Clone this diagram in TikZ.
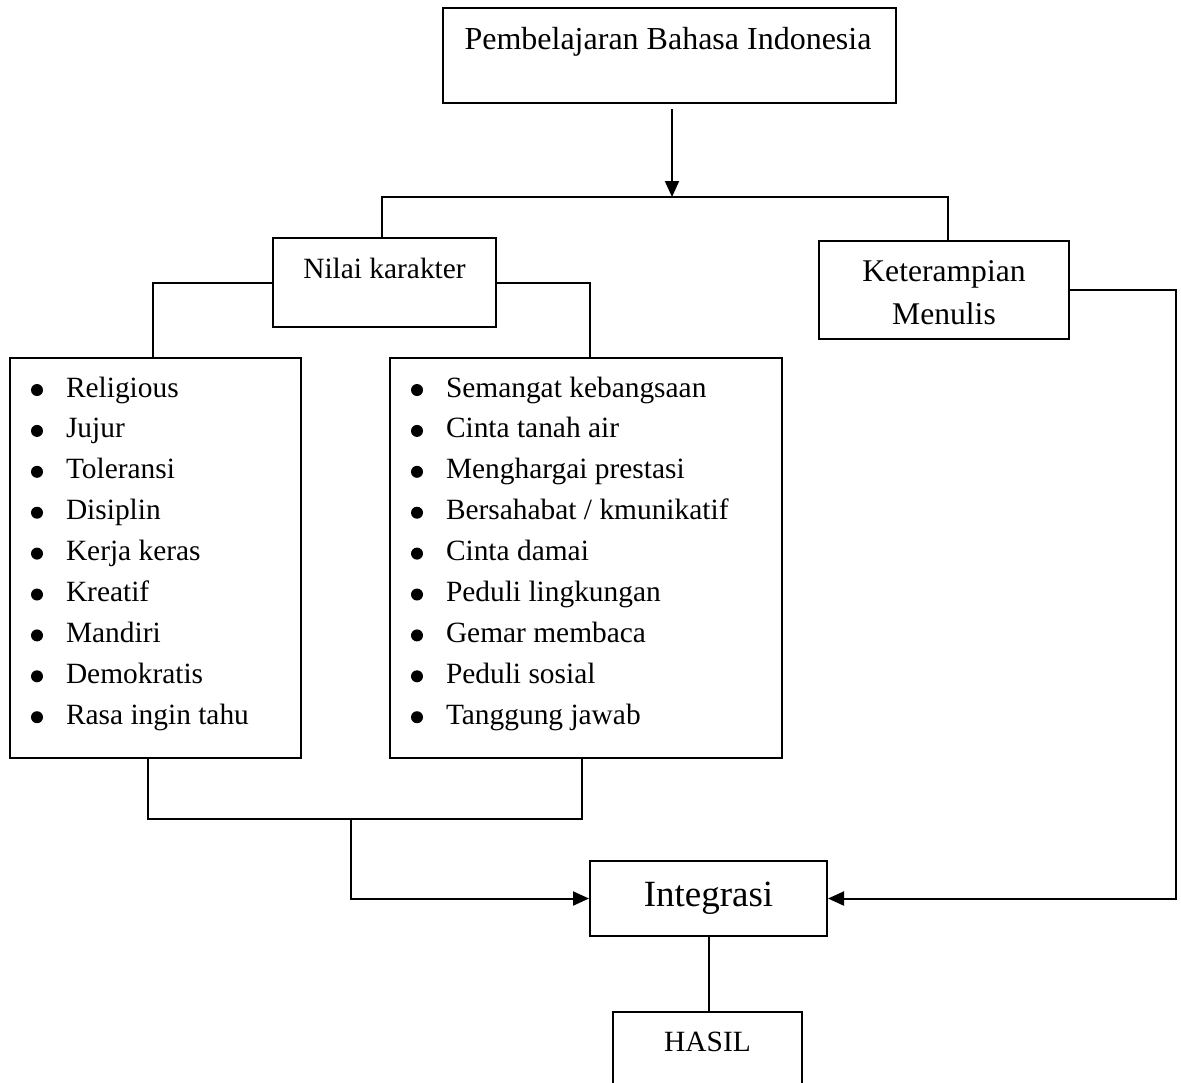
\documentclass[tikz,border=0pt]{standalone}
\usepackage{fontspec}
\setmainfont{Liberation Serif}
\usetikzlibrary{arrows.meta}
\tikzset{
  box/.style={draw, line width=1pt, inner sep=0pt},
  label text/.style={inner sep=0pt, font=\fontsize{14.7}{17}\selectfont},
  item/.style={anchor=base west, inner sep=0pt, font=\fontsize{14.7}{17}\selectfont},
  arr/.style={-{Triangle[length=8pt,width=7pt]}}
}

\begin{document}
\begin{tikzpicture}[x=0.5pt,y=-0.5pt,line width=1pt]
\useasboundingbox (0,0) rectangle (1181,1082);
\clip (0,0) rectangle (1181,1082);
% boxes
\node[box, minimum width=226.5pt, minimum height=47.5pt] (judul) at (669.5,55.5) {};
\node[label text, anchor=base, font=\fontsize{16}{19}\selectfont] (judultext) at (668,49) {Pembelajaran Bahasa Indonesia};
\node[box, minimum width=111.5pt, minimum height=44.5pt] (nilai) at (384.5,282.5) {};
\node[label text] (nilaitext) at (384.5,268) {Nilai karakter};
\node[box, minimum width=125pt, minimum height=49pt] (menulis) at (944,290) {};
\node[label text, align=center, font=\fontsize{15.8}{21.5}\selectfont] (menulistext) at (944,293) {Keterampian\\Menulis};
\node[box, minimum width=145.5pt, minimum height=200pt] (kiri) at (155.5,558) {};
\node[box, minimum width=196pt, minimum height=200pt] (kanan) at (586,558) {};
\node[box, minimum width=118.5pt, minimum height=37.5pt,
  font=\fontsize{18.5}{22}\selectfont] (integrasi) at (708.5,898.5) {Integrasi};
\node[box, minimum width=94.5pt, minimum height=64pt] (hasil) at (707.5,1076) {};
\node[label text] (hasiltext) at (707.5,1042) {HASIL};
% lists
\foreach \txt [count=\i from 0] in {Religious, Jujur, Toleransi, Disiplin, Kerja keras,
    Kreatif, Mandiri, Demokratis, Rasa ingin tahu} {
  \fill (37,390+40.9*\i) circle[radius=3pt];
  \node[item] (kiri\i) at (65,397+40.9*\i) {\txt};
}
\foreach \txt [count=\i from 0] in {Semangat kebangsaan, Cinta tanah air, Menghargai prestasi,
    Bersahabat / kmunikatif, Cinta damai, Peduli lingkungan, Gemar membaca,
    Peduli sosial, Tanggung jawab} {
  \fill (417,390+40.9*\i) circle[radius=3pt];
  \node[item] (kanan\i) at (445,397+40.9*\i) {\txt};
}
% connectors
\coordinate (cabang) at (672,197);
\coordinate (cabangL) at (382,197);
\coordinate (cabangR) at (948,197);
\draw[arr] ([yshift=-2.5pt]judul.south -| cabang) -- (cabang);
\draw (cabangL |- nilai.north) -- (cabangL) -- (cabangR) -- (cabangR |- menulis.north);
\draw (nilai.west) -| ([xshift=-1.25pt]kiri.north);
\draw (nilai.east) -| ([xshift=2pt]kanan.north);
\coordinate (gabungL) at (148,819);
\coordinate (gabungR) at (582,819);
\coordinate (gabungM) at (351,819);
\draw (gabungL |- kiri.south) -- (gabungL) -- (gabungR) -- (gabungR |- kanan.south);
\draw[arr] (gabungM) |- (integrasi.west);
\coordinate (sisiR) at (1176,898.5);
\draw[arr] (menulis.east) -| (sisiR) -- (integrasi.east);
\draw (integrasi.south) -- (integrasi.south |- hasil.north);
\end{tikzpicture}
\end{document}
